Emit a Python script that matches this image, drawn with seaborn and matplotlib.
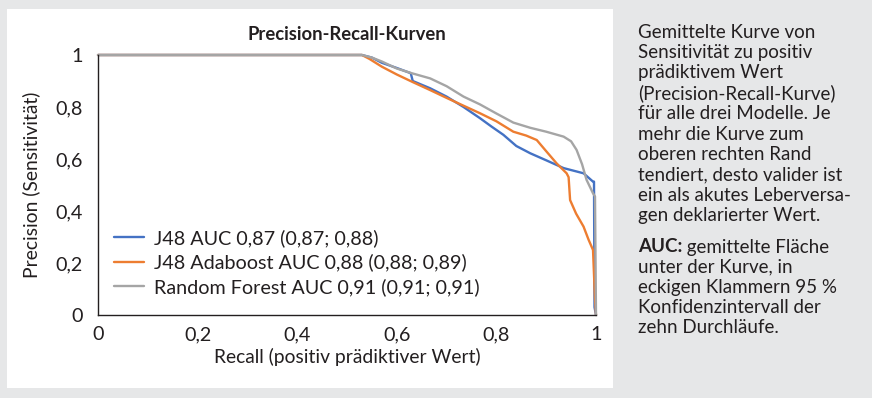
import matplotlib
matplotlib.use("Agg")
import matplotlib.pyplot as plt
import seaborn as sns
import pandas as pd
from matplotlib.patches import Rectangle

# ---- data ----
series_names = ["J48 AUC 0,87 (0,87; 0,88)",
                "J48 Adaboost AUC 0,88 (0,88; 0,89)",
                "Random Forest AUC 0,91 (0,91; 0,91)"]

j48_recall = [0.0, 0.53, 0.55, 0.57, 0.60, 0.628, 0.632, 0.667, 0.70, 0.734,
              0.767, 0.79, 0.814, 0.84, 0.868, 0.90, 0.935, 0.975, 0.994, 0.996,
              0.997, 1.0]
j48_precision = [1.0, 1.0, 0.99, 0.97, 0.95, 0.93, 0.90, 0.872, 0.84, 0.80,
                 0.757, 0.725, 0.693, 0.65, 0.622, 0.595, 0.565, 0.545, 0.513,
                 0.513, 0.03, 0.0]

ada_recall = [0.0, 0.53, 0.545, 0.57, 0.60, 0.633, 0.667, 0.70, 0.734, 0.767,
              0.80, 0.834, 0.86, 0.881, 0.90, 0.921, 0.941, 0.945, 0.948, 0.96,
              0.975, 0.985, 0.994, 0.998, 1.0]
ada_precision = [1.0, 1.0, 0.985, 0.955, 0.925, 0.895, 0.865, 0.835, 0.805, 0.776,
                 0.745, 0.705, 0.69, 0.673, 0.63, 0.583, 0.545, 0.53, 0.442, 0.39,
                 0.34, 0.29, 0.25, 0.06, 0.0]

rf_recall = [0.0, 0.53, 0.55, 0.57, 0.60, 0.63, 0.667, 0.70, 0.734, 0.767,
             0.80, 0.834, 0.868, 0.90, 0.935, 0.95, 0.961, 0.972, 0.981, 0.994,
             0.998, 1.0]
rf_precision = [1.0, 1.0, 0.99, 0.975, 0.948, 0.93, 0.91, 0.88, 0.84, 0.81,
                0.775, 0.74, 0.72, 0.705, 0.686, 0.668, 0.635, 0.58, 0.52, 0.468,
                0.456, 0.0]

x_ticks = [0, 0.2, 0.4, 0.6, 0.8, 1]
x_tick_labels = ["0", "0,2", "0,4", "0,6", "0,8", "1"]
y_ticks = [0, 0.2, 0.4, 0.6, 0.8, 1]
y_tick_labels = ["0", "0,2", "0,4", "0,6", "0,8", "1"]

colors = ["#4472C4", "#ED7D31", "#A5A5A5"]

title_text = "Precision-Recall-Kurven"
x_label = "Recall (positiv prädiktiver Wert)"
y_label = "Precision (Sensitivität)"

caption_lines = ["Gemittelte Kurve von",
                 "Sensitivität zu positiv",
                 "prädiktivem Wert",
                 "(Precision-Recall-Kurve)",
                 "für alle drei Modelle. Je",
                 "mehr die Kurve zum",
                 "oberen rechten Rand",
                 "tendiert, desto valider ist",
                 "ein als akutes Leberversa-",
                 "gen deklarierter Wert."]
auc_bold = "AUC:"
auc_lines = [" gemittelte Fläche",
             "unter der Kurve, in",
             "eckigen Klammern 95 %",
             "Konfidenzintervall der",
             "zehn Durchläufe."]

# ---- build frame ----
frames = []
for name, r, p in zip(series_names,
                      [j48_recall, ada_recall, rf_recall],
                      [j48_precision, ada_precision, rf_precision]):
    frames.append(pd.DataFrame({"Recall": r, "Precision": p, "Modell": name}))
df = pd.concat(frames, ignore_index=True)

sns.set_theme(style="white")
FONT = ["Lato", "DejaVu Sans"]
plt.rcParams["font.family"] = FONT
TXT = "#231f20"

W, H = 872, 398
fig = plt.figure(figsize=(W / 100, H / 100), dpi=100)
fig.patch.set_facecolor("#e6e7e8")
renderer = fig.canvas.get_renderer()


def extent(text, size, weight="normal"):
    t = fig.text(0, 0, text, fontsize=size, fontweight=weight)
    bb = t.get_window_extent(renderer=renderer)
    t.remove()
    return bb.width, bb.height


def fit(text, target_px, weight="normal"):
    w, _ = extent(text, 10, weight)
    return 10 * target_px / w


fs_title = fit(title_text, 200, "bold")
fs_axis = fit(x_label, 268)
fs_leg = fit(series_names[0], 224)
fs_cap = fit("tendiert, desto valider ist", 206)

# white panel behind chart
fig.patches.append(Rectangle((7 / W, 1 - 388 / H), (613 - 7) / W, (388 - 9) / H,
                             transform=fig.transFigure, facecolor="white",
                             edgecolor="none", zorder=-5))

AX_L, AX_R, AX_T, AX_B = 98, 596, 55, 315
ax = fig.add_axes([AX_L / W, 1 - AX_B / H, (AX_R - AX_L) / W, (AX_B - AX_T) / H])
ax.set_facecolor("none")
ax.set_zorder(2)

LW = 1.7
sns.lineplot(data=df, x="Recall", y="Precision", hue="Modell", sort=False,
             palette=colors, hue_order=series_names, linewidth=LW,
             estimator=None, ax=ax, legend=True)
for ln in ax.lines:
    ln.set_clip_on(False)

ax.set_xlim(0, 1)
ax.set_ylim(0, 1)
ax.set_xticks(x_ticks)
ax.set_xticklabels(x_tick_labels, fontsize=fs_leg, color=TXT)
ax.set_yticks(y_ticks)
ax.set_yticklabels(y_tick_labels, fontsize=fs_leg, color=TXT)
_, h_tick = extent("0,8", fs_leg)
ax.tick_params(axis="both", length=0)
ax.tick_params(axis="y", pad=(AX_L - 82.5) * 0.72)
ax.tick_params(axis="x", pad=max(0.0, (335 - AX_B - h_tick / 2)) * 0.72)

for s in ["top", "right"]:
    ax.spines[s].set_visible(False)
for s in ["left", "bottom"]:
    ax.spines[s].set_color("#231f20")
    ax.spines[s].set_linewidth(1.0)

ax.set_xlabel(x_label, fontsize=fs_axis, color=TXT, va="center")
ax.xaxis.set_label_coords(0.5, (AX_B - 357) / (AX_B - AX_T))
ax.set_ylabel(y_label, fontsize=fs_axis, color=TXT, va="center")
ax.yaxis.set_label_coords((31 - AX_L) / (AX_R - AX_L), 0.5)
ax.set_title(title_text, fontsize=fs_title, fontweight="bold", color=TXT,
             y=(AX_B - 35) / (AX_B - AX_T), va="center", pad=0)

# legend
_, h_leg = extent(series_names[0], fs_leg)
fs_px = fs_leg / 72 * 100
row_gap = 24.5
leg = ax.legend(loc="upper left",
                bbox_to_anchor=(114 / W, 1 - (238 - h_leg / 2) / H),
                bbox_transform=fig.transFigure, frameon=False,
                fontsize=fs_leg, handlelength=30 / fs_px,
                handletextpad=10 / fs_px,
                labelspacing=(row_gap - h_leg) / fs_px,
                borderaxespad=0, borderpad=0)
for t in leg.get_texts():
    t.set_color(TXT)
for l in leg.get_lines():
    l.set_linewidth(LW)

# caption text on right
x0 = 638 / W
y = 32
for line in caption_lines:
    fig.text(x0, 1 - y / H, line, fontsize=fs_cap, color=TXT, va="center", ha="left")
    y += 20.4
y = 247
b = fig.text(x0, 1 - y / H, auc_bold, fontsize=fs_cap, color=TXT, va="center",
             ha="left", fontweight="bold")
bb = b.get_window_extent(renderer=renderer)
fig.text(bb.x1 / W, 1 - y / H, auc_lines[0], fontsize=fs_cap, color=TXT,
         va="center", ha="left")
for line in auc_lines[1:]:
    y += 20.2
    fig.text(x0, 1 - y / H, line, fontsize=fs_cap, color=TXT, va="center", ha="left")

fig.savefig("out.png", dpi=100, facecolor=fig.get_facecolor())
